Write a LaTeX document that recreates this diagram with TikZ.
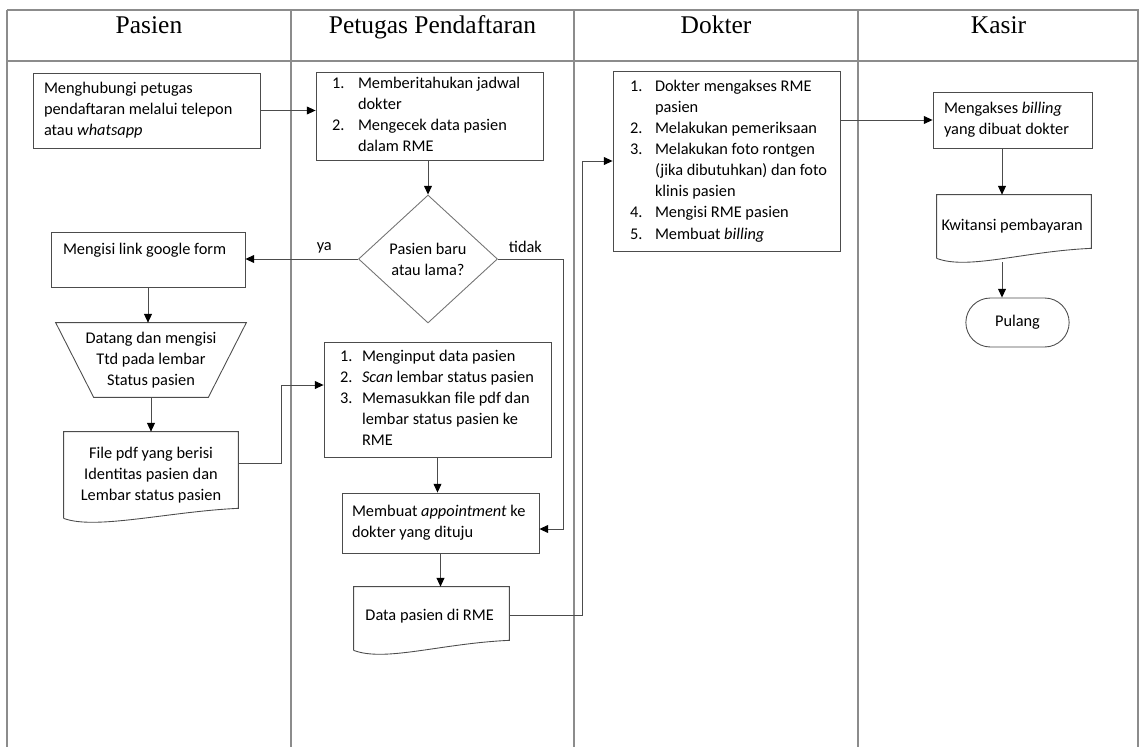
\documentclass[tikz,border=0pt]{standalone}
\usepackage{fontspec}
\setmainfont{Carlito}
\newfontfamily\lanefont{Liberation Serif}
\usetikzlibrary{arrows.meta, positioning, shapes.geometric, shapes.misc}

% outline of a document symbol around a node
\newcommand{\docoutline}[1]{%
  \draw[docline] (#1.south west) -- (#1.north west) -- (#1.north east)
    -- ([yshift=0.2cm]#1.south east)
    .. controls +(-68,3) and +(31,12) .. (#1.south west);}
% outline of a manual operation symbol around a node
\newcommand{\manualoutline}[1]{%
  \draw[docline] (#1.north west) -- (#1.north east)
    -- ([xshift=-0.76cm]#1.south east) -- ([xshift=0.76cm]#1.south west) -- cycle;}

\begin{document}
\begin{tikzpicture}[
    x=0.02cm, y=-0.02cm,
    lane/.style={draw=black!45, line width=0.9pt},
    lanehead/.style={anchor=base, font=\lanefont\fontsize{14.5}{17}\selectfont},
    stepbox/.style={rectangle, draw=black!70, line width=0.5pt, align=flush left,
                    inner ysep=0pt, font=\fontsize{9.3}{12}\selectfont},
    docbox/.style={rectangle, align=flush center, inner sep=0pt,
                   font=\fontsize{9.3}{12}\selectfont},
    docline/.style={draw=black!70, line width=0.5pt},
    choice/.style={diamond, draw=black!55, line width=0.5pt, aspect=1.09,
                   minimum width=2.78cm, minimum height=2.56cm, inner sep=0pt,
                   align=flush center, font=\fontsize{9.3}{12}\selectfont},
    terminal/.style={rounded rectangle, draw=black!70, line width=0.5pt,
                     minimum width=2.3cm, minimum height=0.98cm,
                     font=\fontsize{9.3}{12}\selectfont},
    flow/.style={-{Triangle[length=5pt, width=4.5pt, color=black]}, draw=black!70,
                 line width=0.5pt},
    flowlabel/.style={font=\fontsize{9.3}{12}\selectfont}
]
\useasboundingbox (0,0) rectangle (1139,747);

% swimlanes
\draw[lane] (7,10) -- (1139,10);
\draw[lane] (7,61) -- (1139,61);
\foreach \x in {7, 291, 574, 858, 1138}
    \draw[lane] (\x,10) -- (\x,747);
\foreach \x/\name [count=\i] in {149/Pasien, 432.5/Petugas Pendaftaran, 716/Dokter, 998.5/Kasir}
    \node[lanehead] (lane\i) at (\x,33) {\name};

% Pasien
\node[stepbox, minimum width=4.54cm, minimum height=1.5cm, text width=4.1cm,
      inner xsep=0.22cm] (kontak) at (146.5,110.5) {
    Menghubungi petugas\\
    pendaftaran melalui telepon\\
    atau \textit{whatsapp}
};

\node[stepbox, minimum width=3.88cm, minimum height=1.1cm, text width=3.4cm,
      inner xsep=0.24cm] (gform) at (148,259.5) {
    Mengisi link google form\\ \mbox{}
};

\node[docbox, minimum width=3.8cm, minimum height=1.48cm] (ttd) at (151,360) {
    Datang dan mengisi\\
    Ttd pada lembar\\
    Status pasien
};
\manualoutline{ttd}

\node[docbox, minimum width=3.48cm, minimum height=1.72cm] (pdf) at (151,475) {
    File pdf yang berisi\\
    Identitas pasien dan\\
    Lembar status pasien
};
\docoutline{pdf}

% Petugas Pendaftaran
\node[stepbox, minimum width=4.54cm, minimum height=1.76cm, text width=3.9cm,
      inner xsep=0.32cm] (jadwal) at (429.5,116) {
    \begin{tabular}{@{}p{0.52cm}@{}l@{}}
    1. & Memberitahukan jadwal\\
       & dokter\\
    2. & Mengecek data pasien\\
       & dalam RME
    \end{tabular}
};

\node[choice] (baru) at (428,259) {Pasien baru\\atau lama?};

\node[stepbox, minimum width=4.54cm, minimum height=2.3cm, text width=3.9cm,
      inner xsep=0.32cm] (input) at (437.5,399.5) {
    \begin{tabular}{@{}p{0.44cm}@{}l@{}}
    1. & Menginput data pasien\\
    2. & \textit{Scan} lembar status pasien\\
    3. & Memasukkan file pdf dan\\
       & lembar status pasien ke\\
       & RME
    \end{tabular}
};

\node[stepbox, minimum width=3.94cm, minimum height=1.2cm, text width=3.54cm,
      inner xsep=0.2cm] (janji) at (440.5,523) {
    Membuat \textit{appointment} ke\\
    dokter yang dituju
};

\node[docbox, minimum width=3.1cm, minimum height=1.26cm] (rme) at (431.5,618.5) {
    \raisebox{4.5pt}{Data pasien di RME}
};
\docoutline{rme}

% Dokter
\node[stepbox, minimum width=4.54cm, minimum height=3.6cm, text width=3.86cm,
      inner xsep=0.34cm] (periksa) at (726.5,161) {
    \begin{tabular}{@{}p{0.5cm}@{}l@{}}
    1. & Dokter mengakses RME\\
       & pasien\\
    2. & Melakukan pemeriksaan\\
    3. & Melakukan foto rontgen\\
       & (jika dibutuhkan) dan foto\\
       & klinis pasien\\
    4. & Mengisi RME pasien\\
    5. & Membuat \textit{billing}
    \end{tabular}
};

% Kasir
\node[stepbox, minimum width=3.18cm, minimum height=1.12cm, text width=2.74cm,
      inner xsep=0.22cm] (billing) at (1012.5,120) {
    Mengakses \textit{billing}\\
    yang dibuat dokter
};

\node[docbox, minimum width=3.08cm, minimum height=1.26cm] (kwitansi) at (1014,226.5) {
    Kwitansi pembayaran
};
\docoutline{kwitansi}

\node[terminal] (pulang) at (1017.5,322.5) {Pulang};

% connectors
\draw[flow] (kontak.east) -- (kontak.east -| jadwal.west);
\draw[flow] (jadwal.south -| baru.north) -- (baru.north);
\draw[flow] (baru.west) -- node[flowlabel, pos=0.3, above] {ya} (baru.west -| gform.east);
\draw[flow] (baru.east) -| node[flowlabel, pos=0.21, above] {tidak}
    ([xshift=0.48cm, yshift=-0.12cm]janji.east) -- ([yshift=-0.12cm]janji.east);
\draw[flow] (gform.south) -- (gform.south |- ttd.north);
\draw[flow] (ttd.south) -- (ttd.south |- pdf.north);
\draw[flow] ([yshift=0.24cm]pdf.east) -- ++(43,0) |- ([yshift=0.29cm]input.west);
\draw[flow] (input.south) -- (input.south |- janji.north);
\draw[flow] (janji.south) -- (janji.south |- rme.north);
\draw[flow] ([yshift=0.07cm]rme.east) -- ++(73,0) |- (periksa.west);
\draw[flow] (billing.west -| periksa.east) -- (billing.west);
\draw[flow] ([xshift=-0.21cm]billing.south) -- ([xshift=-0.21cm]billing.south |- kwitansi.north);
\draw[flow] ([xshift=-0.24cm, yshift=-0.08cm]kwitansi.south)
    -- ([xshift=-0.24cm]kwitansi.south |- pulang.north);

\end{tikzpicture}
\end{document}
